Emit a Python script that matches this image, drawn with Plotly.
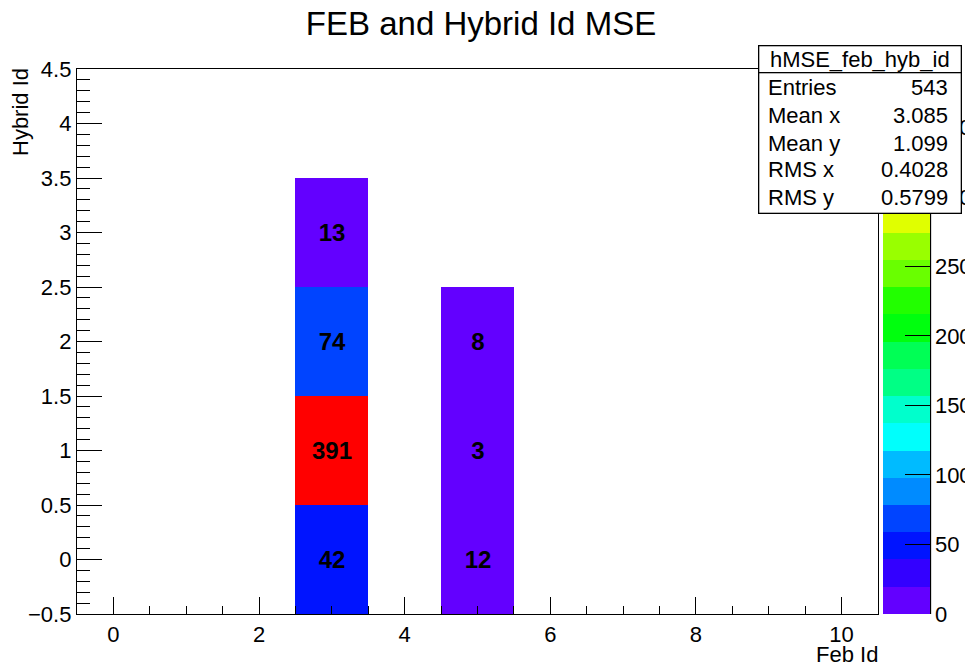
import colorsys
import plotly.graph_objects as go

# ---------------- data ----------------
feb_ids = [0, 1, 2, 3, 4, 5, 6, 7, 8, 9, 10]
hybrid_ids = [0, 1, 2, 3, 4]
feb3_counts = [42, 391, 74, 13, None]   # Feb Id 3, hybrid 0..4
feb5_counts = [12, 3, 8, None, None]    # Feb Id 5, hybrid 0..4

stat_title = "hMSE_feb_hyb_id"
stat_labels = ["Entries", "Mean x", "Mean y", "RMS x", "RMS y"]
stat_values = ["543", "3.085", "1.099", "0.4028", "0.5799"]

colorbar_ticks = [0, 50, 100, 150, 200, 250, 300, 350]
z_min, z_max = 0, 392
n_contours = 20

# ---------------- build table ----------------
z = [[None for _ in feb_ids] for _ in hybrid_ids]
for j, v in enumerate(feb3_counts):
    z[j][feb_ids.index(3)] = v
for j, v in enumerate(feb5_counts):
    z[j][feb_ids.index(5)] = v

# ROOT "pretty palette" (HLS violet->red, 50 colours), sampled with 20 contours
def pretty(i):
    hue = 280 - (i + 1) * (280 / 50)
    r, g, b = colorsys.hls_to_rgb(hue / 360.0, 0.5, 1.0)
    return f"rgb({round(r*255)},{round(g*255)},{round(b*255)})"

colorscale = []
for k in range(n_contours):
    idx = int((k + 0.99) * 50 / n_contours)
    c = pretty(idx)
    colorscale.append([k / n_contours, c])
    colorscale.append([(k + 1) / n_contours, c])

# ---------------- layout geometry ----------------
W, H = 965, 664
PLOT_L, PLOT_R, PLOT_T, PLOT_B = 77, 878, 69, 614   # window pixel coordinates
L, T = PLOT_L, PLOT_T
R, B = W - PLOT_R, H - PLOT_B
PW, PH = PLOT_R - PLOT_L, PLOT_B - PLOT_T

def px(x):
    return (x - PLOT_L) / PW

def py(y):
    return (PLOT_B - y) / PH

FONT = "Liberation Sans, Arial, Helvetica, sans-serif"
FS = 22

fig = go.Figure()
fig.add_trace(go.Heatmap(
    x=feb_ids, y=hybrid_ids, z=z,
    zmin=z_min, zmax=z_max, colorscale=colorscale,
    texttemplate="%{z}",
    textfont=dict(family=FONT, size=24, color="black", weight="bold"),
    hoverongaps=False,
    colorbar=dict(
        x=px(883), xanchor="left", xpad=0,
        y=0, yanchor="bottom", ypad=0, len=1, lenmode="fraction",
        thickness=47, thicknessmode="pixels",
        outlinewidth=0,
        tickmode="array", tickvals=colorbar_ticks,
        ticks="inside", ticklen=25, tickwidth=1.3, tickcolor="black",
        tickfont=dict(family=FONT, size=FS, color="black"),
    ),
))

fig.update_xaxes(
    range=[-0.5, 10.5], tick0=0, dtick=2, ticks="inside", ticklen=17,
    tickwidth=1.3, tickcolor="black",
    minor=dict(dtick=0.5, ticks="inside", ticklen=8, tickwidth=1.3, tickcolor="black"),
    showgrid=False, zeroline=False, showline=True, linecolor="black",
    linewidth=1.3, mirror=True,
    tickfont=dict(family=FONT, size=FS, color="black"),
)
fig.update_yaxes(
    range=[-0.5, 4.5], tick0=-0.5, dtick=0.5, ticks="inside", ticklen=25,
    tickwidth=1.3, tickcolor="black",
    minor=dict(dtick=0.1, ticks="inside", ticklen=13, tickwidth=1.3, tickcolor="black"),
    showgrid=False, zeroline=False, showline=True, linecolor="black",
    linewidth=1.3, mirror=True,
    tickfont=dict(family=FONT, size=FS, color="black"),
)

annotations = [
    dict(text="Feb Id", xref="paper", yref="paper", x=px(880), y=py(654),
         xanchor="right", yanchor="middle", showarrow=False,
         font=dict(family=FONT, size=FS, color="black")),
    dict(text="Hybrid Id", xref="paper", yref="paper", x=px(21), y=py(66),
         xanchor="center", yanchor="top", textangle=-90, showarrow=False,
         font=dict(family=FONT, size=FS, color="black")),
    # stats box header
    dict(text=stat_title, xref="paper", yref="paper", x=px(758), y=py(45),
         xanchor="left", yanchor="top", showarrow=False, width=201, height=27,
         bgcolor="white", bordercolor="black", borderwidth=1.3, borderpad=0,
         font=dict(family=FONT, size=FS, color="black")),
    # stats box body
    dict(text=" ", xref="paper", yref="paper", x=px(758), y=py(72),
         xanchor="left", yanchor="top", showarrow=False, width=201, height=139,
         bgcolor="white", bordercolor="black", borderwidth=1.3, borderpad=0,
         font=dict(family=FONT, size=FS, color="black")),
]
row_y = [88, 116, 143, 170, 197]
for lab, val, yy in zip(stat_labels, stat_values, row_y):
    annotations.append(dict(text=lab, xref="paper", yref="paper", x=px(766), y=py(yy),
                            xanchor="left", yanchor="middle", showarrow=False,
                            font=dict(family=FONT, size=FS, color="black")))
    annotations.append(dict(text=val, xref="paper", yref="paper", x=px(950), y=py(yy),
                            xanchor="right", yanchor="middle", showarrow=False,
                            font=dict(family=FONT, size=FS, color="black")))

fig.update_layout(
    width=W, height=H,
    margin=dict(l=L, r=R, t=T, b=B, autoexpand=False),
    paper_bgcolor="white", plot_bgcolor="white",
    title=dict(text="FEB and Hybrid Id MSE", x=481 / W, xanchor="center",
               y=1 - 23 / H, yanchor="middle",
               font=dict(family=FONT, size=33, color="black")),
    annotations=annotations,
    shapes=[dict(type="line", xref="paper", yref="paper",
                 x0=px(930.5), x1=px(930.5), y0=0, y1=1,
                 line=dict(color="black", width=1.3))],
)

fig.write_html(
    "out.html",
    config={"displayModeBar": False},
    post_script="document.body.style.margin='0px';"
                "document.documentElement.style.overflow='hidden';",
)
